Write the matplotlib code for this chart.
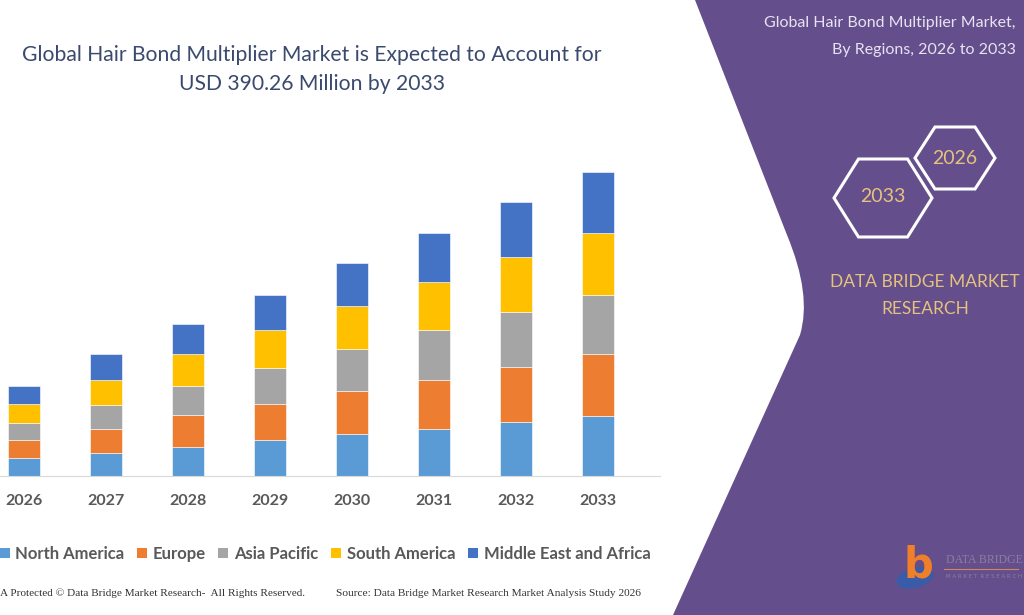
import numpy as np
import matplotlib
matplotlib.use("Agg")
import matplotlib.pyplot as plt
from matplotlib.patches import PathPatch, Polygon, Patch, Ellipse
from matplotlib.path import Path

# ------------------------------
# Data (USD million)
# ------------------------------
years = ["2026", "2027", "2028", "2029", "2030", "2031", "2032", "2033"]
regions = ["North America", "Europe", "Asia Pacific", "South America", "Middle East and Africa"]
north_america = [23.1, 29.9, 36.8, 45.8, 53.5, 60.3, 69.0, 77.4]
europe = [23.1, 30.8, 41.1, 47.0, 56.0, 63.3, 70.6, 78.8]
asia_pacific = [21.8, 30.4, 37.6, 46.2, 53.5, 63.4, 71.4, 76.1]
south_america = [24.4, 32.1, 40.7, 48.0, 55.6, 62.4, 69.8, 79.6]
mea = [23.1, 33.4, 38.5, 45.3, 54.4, 62.1, 71.0, 78.3]
colors = ["#5B9BD5", "#ED7D31", "#A5A5A5", "#FFC000", "#4472C4"]

purple = "#644F8C"
gold = "#E6C27E"

fig = plt.figure(figsize=(10.24, 6.15), dpi=100)

# background layer in pixel coordinates
bg = fig.add_axes([0, 0, 1, 1])
bg.set_xlim(0, 1024)
bg.set_ylim(615, 0)
bg.axis("off")

verts = [(695, 0), (787, 235), (812, 295), (800, 335), (673, 615),
         (1024, 615), (1024, 0), (695, 0)]
codes = [Path.MOVETO, Path.LINETO, Path.CURVE3, Path.CURVE3, Path.LINETO,
         Path.LINETO, Path.LINETO, Path.CLOSEPOLY]
bg.add_patch(PathPatch(Path(verts, codes), facecolor=purple, edgecolor="none"))

# hexagons
def hexagon(cx, cy, hw, hh):
    return [(cx - hw, cy), (cx - hw / 2, cy - hh), (cx + hw / 2, cy - hh),
            (cx + hw, cy), (cx + hw / 2, cy + hh), (cx - hw / 2, cy + hh)]

bg.add_patch(Polygon(hexagon(883, 198, 49, 39), closed=True, fill=False,
                     edgecolor="white", linewidth=2.2))
bg.add_patch(Polygon(hexagon(955, 158, 40, 31), closed=True, fill=False,
                     edgecolor="white", linewidth=2.2))
bg.text(883, 197, "2033", color=gold, fontsize=14, family="Lato",
        ha="center", va="center")
bg.text(955, 158, "2026", color=gold, fontsize=14, family="Lato",
        ha="center", va="center")

# right panel heading (shrunk so it stays inside the canvas)
bg.text(1016, 23, "Global Hair Bond Multiplier Market,", color="#E8E2F2",
        fontsize=11.5, family="Lato", ha="right", va="center")
bg.text(1016, 50, "By Regions, 2026 to 2033", color="#E8E2F2",
        fontsize=11.5, family="Lato", ha="right", va="center")
bg.text(925, 282, "DATA BRIDGE MARKET", color=gold, fontsize=12.5,
        family="Lato", ha="center", va="center")
bg.text(925, 309, "RESEARCH", color=gold, fontsize=12.5,
        family="Lato", ha="center", va="center")

# logo
bg.add_patch(Ellipse((915, 578), 38, 20, angle=-15, facecolor="#3A5BA8",
                     edgecolor="none"))
bg.text(918, 566, "b", color="#F07F2A", fontsize=30, fontweight="bold",
        family="DejaVu Sans", ha="center", va="center")
bg.text(946, 560, "DATA BRIDGE", color="#8A7FA0", fontsize=8.5,
        family="Liberation Serif", ha="left", va="center")
bg.plot([944, 1018], [569, 569], color="#D0865A", lw=0.8)
bg.text(946, 576, "M A R K E T  R E S E A R C H", color="#8A7FA0", fontsize=4,
        family="DejaVu Sans", ha="left", va="center")

# title
title_color = "#3A4A6E"
bg.text(312, 55, "Global Hair Bond Multiplier Market is Expected to Account for",
        color=title_color, fontsize=15.2, family="Lato", ha="center", va="center")
bg.text(312, 84, "USD 390.26 Million by 2033",
        color=title_color, fontsize=15.2, family="Lato", ha="center", va="center")

# footer
bg.text(0, 593, "A Protected \u00a9 Data Bridge Market Research-  All Rights Reserved.",
        color="#333333", fontsize=8.1, family="Liberation Serif", ha="left", va="center")
bg.text(336, 593, "Source: Data Bridge Market Research Market Analysis Study 2026",
        color="#333333", fontsize=8.2, family="Liberation Serif", ha="left", va="center")

# ------------------------------
# Stacked bar chart
# ------------------------------
ax = fig.add_axes([0, 139 / 615, 660 / 1024, 316 / 615])
ax.set_facecolor("none")
x = np.arange(len(years))
series = [north_america, europe, asia_pacific, south_america, mea]
bottom = np.zeros(len(years))
for vals, c in zip(series, colors):
    ax.bar(x, vals, width=0.40, bottom=bottom, color=c, edgecolor="white",
           linewidth=0.4)
    bottom += np.array(vals)

ax.set_xlim(-0.293, 7.756)
ax.set_ylim(0, 405.7)
ax.set_xticks(x)
ax.set_xticklabels(years, fontsize=11.5, fontweight="bold", family="Lato",
                   color="#595959")
ax.tick_params(axis="x", length=0, pad=13)
ax.set_yticks([])
for s in ["top", "left", "right"]:
    ax.spines[s].set_visible(False)
ax.spines["bottom"].set_color("#D9D9D9")

handles = [Patch(facecolor=c, edgecolor="none") for c in colors]
fig.legend(handles, regions, loc="center", bbox_to_anchor=(325 / 1024, 1 - 554 / 615),
           ncol=5, frameon=False, handlelength=0.6, handleheight=0.6,
           handletextpad=0.35, columnspacing=0.75,
           prop={"family": "Lato", "weight": "bold", "size": 12},
           labelcolor="#595959")

fig.savefig("out.png", dpi=100)
